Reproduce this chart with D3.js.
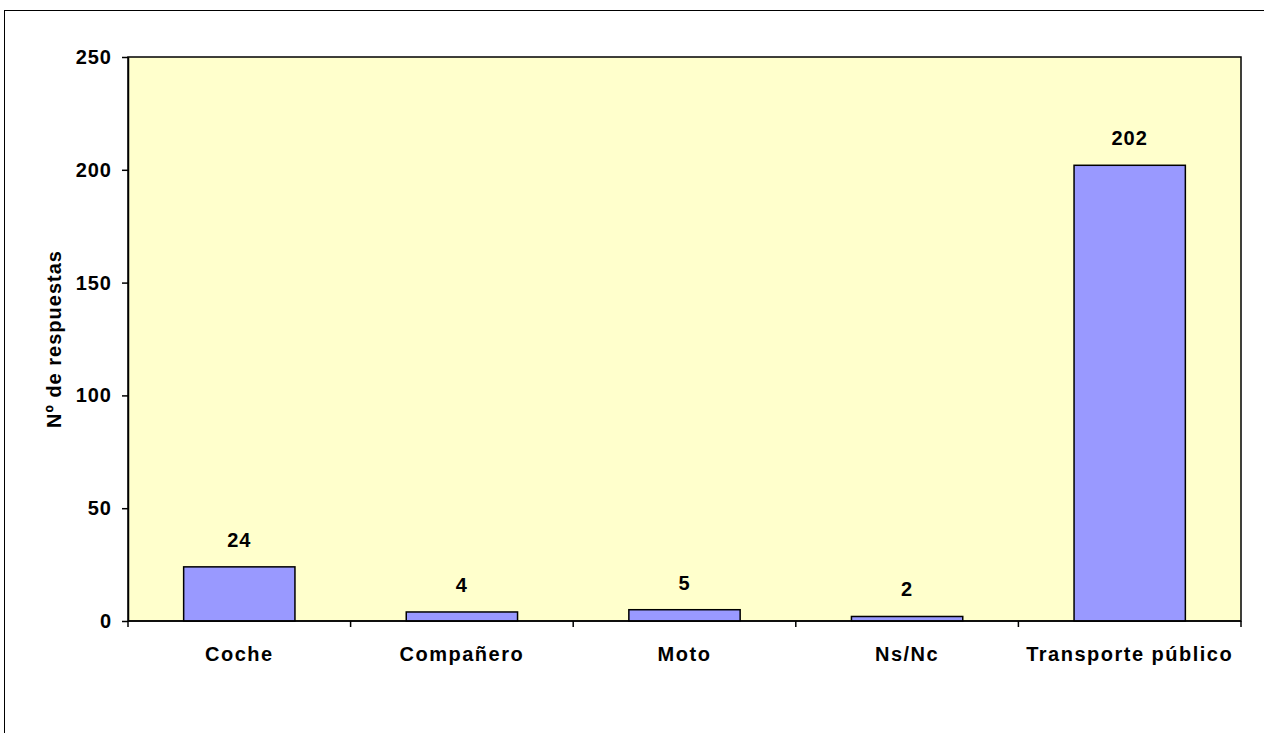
<!DOCTYPE html>
<html>
<head>
<meta charset="utf-8">
<script src="https://cdn.jsdelivr.net/npm/d3@7"></script>
<style>
  body { margin: 0; background: #fff; }
  svg text { font-family: "Liberation Sans", Arial, sans-serif; font-weight: bold; fill: #000; }
</style>
</head>
<body>
<svg id="chart" width="1264" height="733"></svg>
<script>
// data
const categories = ["Coche", "Compañero", "Moto", "Ns/Nc", "Transporte público"];
const values = [24, 4, 5, 2, 202];
const yTicks = [0, 50, 100, 150, 200, 250];
const yTitle = "Nº de respuestas";

const svg = d3.select("svg#chart");
const plot = { left: 128, top: 57, right: 1241, bottom: 621 };

// outer frame
svg.append("rect")
    .attr("x", 4.5).attr("y", 10.5)
    .attr("width", 1264).attr("height", 740)
    .attr("fill", "#fff").attr("stroke", "#000").attr("stroke-width", 1);

const x = d3.scaleBand()
    .domain(categories)
    .range([plot.left, plot.right])
    .paddingInner(0.5)
    .paddingOuter(0.25);

const xCat = d3.scaleBand().domain(categories).range([plot.left, plot.right]);

const y = d3.scaleLinear().domain([0, 250]).range([plot.bottom, plot.top]);

// plot background
svg.append("rect")
    .attr("x", plot.left).attr("y", plot.top)
    .attr("width", plot.right - plot.left).attr("height", plot.bottom - plot.top)
    .attr("fill", "#FFFFCC").attr("stroke", "#000").attr("stroke-width", 1.5);

// bars
svg.append("g").selectAll("rect")
    .data(values)
    .join("rect")
    .attr("x", (d, i) => x(categories[i]))
    .attr("y", d => y(d))
    .attr("width", x.bandwidth())
    .attr("height", d => y(0) - y(d))
    .attr("fill", "#9999FF")
    .attr("stroke", "#000")
    .attr("stroke-width", 1.5);

// value labels
svg.append("g").selectAll("text")
    .data(values)
    .join("text")
    .attr("x", (d, i) => x(categories[i]) + x.bandwidth() / 2)
    .attr("y", d => y(d) - 20)
    .attr("text-anchor", "middle")
    .attr("font-size", 20)
    .attr("letter-spacing", 1)
    .text(d => d);

// y axis
const yAxis = svg.append("g")
    .attr("transform", `translate(${plot.left},0)`)
    .call(d3.axisLeft(y).tickValues(yTicks).tickSize(6).tickPadding(10).tickSizeOuter(0));
yAxis.select(".domain").attr("stroke-width", 1.5);
yAxis.selectAll(".tick line").attr("stroke-width", 1.5);
yAxis.selectAll(".tick text")
    .attr("font-size", 20)
    .attr("letter-spacing", 1)
    .attr("font-family", "Liberation Sans, Arial, sans-serif")
    .attr("font-weight", "bold");

// x axis, ticks between categories
const xAxis = svg.append("g").attr("transform", `translate(0,${plot.bottom})`);
xAxis.append("line")
    .attr("x1", plot.left).attr("x2", plot.right)
    .attr("stroke", "#000").attr("stroke-width", 1.5);
const bounds = categories.map(c => xCat(c)).concat([plot.right]);
xAxis.selectAll("line.tk")
    .data(bounds)
    .join("line")
    .attr("class", "tk")
    .attr("x1", d => d).attr("x2", d => d)
    .attr("y1", 0).attr("y2", 6)
    .attr("stroke", "#000").attr("stroke-width", 1.5);
xAxis.selectAll("text")
    .data(categories)
    .join("text")
    .attr("x", d => xCat(d) + xCat.bandwidth() / 2)
    .attr("y", 40)
    .attr("text-anchor", "middle")
    .attr("font-size", 20)
    .attr("letter-spacing", 1.5)
    .text(d => d);

// y title
svg.append("text")
    .attr("transform", `translate(61,${(plot.top + plot.bottom) / 2}) rotate(-90)`)
    .attr("text-anchor", "middle")
    .attr("font-size", 20)
    .attr("letter-spacing", 1)
    .text(yTitle);
</script>
</body>
</html>
